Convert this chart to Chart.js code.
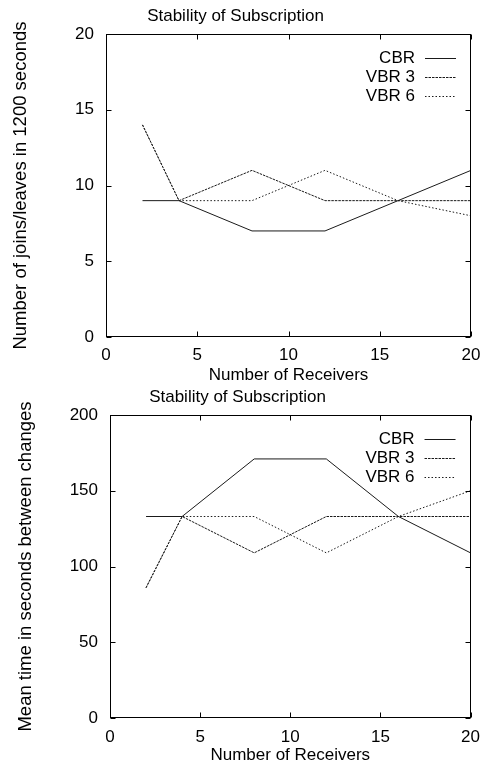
<!DOCTYPE html>
<html>
<head>
<meta charset="utf-8">
<script src="https://cdn.jsdelivr.net/npm/chart.js@4/dist/chart.umd.min.js"></script>
<style>
  html, body { margin: 0; padding: 0; background: #fff; width: 489px; height: 764px; overflow: hidden; }
  canvas { position: absolute; left: 0; }
  #c1 { top: 0; }
  #c2 { top: 380px; }
</style>
</head>
<body>
<canvas id="c1" width="489" height="384"></canvas>
<canvas id="c2" width="489" height="384"></canvas>
<script>
// ---- Data ----
const receivers = [2, 4, 8, 12, 16, 20];
const seriesNames = ['CBR', 'VBR 3', 'VBR 6'];

const joinsCBR  = [9, 9, 7, 7, 9, 11];
const joinsVBR3 = [14, 9, 11, 9, 9, 9];
const joinsVBR6 = [14, 9, 9, 11, 9, 8];

const meanCBR  = [133, 133, 171, 171, 133, 109];
const meanVBR3 = [86, 133, 109, 133, 133, 133];
const meanVBR6 = [86, 133, 133, 109, 133, 150];

const xTicks = [0, 5, 10, 15, 20];
const yTicksTop = [0, 5, 10, 15, 20];
const yTicksBottom = [0, 50, 100, 150, 200];

const chartTitle = 'Stability of Subscription';
const xTitle = 'Number of Receivers';
const yTitleTop = 'Number of joins/leaves in 1200 seconds';
const yTitleBottom = 'Mean time in seconds between changes';

// ---- Styling ----
const FONT = "'Liberation Sans', Arial, Helvetica, sans-serif";
const dashes = [[], [2.5, 1], [1.5, 2]];
const LINE_COLOR = '#1a1a1a';

function toPoints(xs, ys) { return xs.map((x, i) => ({ x: x, y: ys[i] })); }

function makeDatasets(arrays) {
  return arrays.map((arr, i) => ({
    label: seriesNames[i],
    data: toPoints(receivers, arr),
    borderColor: LINE_COLOR,
    borderWidth: 1,
    borderDash: dashes[i],
    pointRadius: 0,
    tension: 0,
    fill: false
  }));
}

const framePlugin = {
  id: 'frame',
  afterDatasetsDraw(chart) {
    const ctx = chart.ctx;
    const a = chart.chartArea;
    const xs = chart.scales.x, ys = chart.scales.y;
    const L = Math.round(a.left) + 0.5, R = Math.round(a.right) - 0.5;
    const T = Math.round(a.top) + 0.5, B = Math.round(a.bottom) - 0.5;
    ctx.save();
    ctx.strokeStyle = '#000';
    ctx.lineWidth = 1;
    ctx.setLineDash([]);
    ctx.strokeRect(L, T, R - L, B - T);
    const tl = 5;
    ctx.beginPath();
    xs.ticks.forEach(t => {
      const px = Math.round(xs.getPixelForValue(t.value)) + 0.5;
      ctx.moveTo(px, B); ctx.lineTo(px, B - tl);
      ctx.moveTo(px, T); ctx.lineTo(px, T + tl);
    });
    ys.ticks.forEach(t => {
      const py = Math.round(ys.getPixelForValue(t.value)) + 0.5;
      ctx.moveTo(L, py); ctx.lineTo(L + tl, py);
      ctx.moveTo(R, py); ctx.lineTo(R - tl, py);
    });
    ctx.stroke();

    // legend: text right-aligned, then line sample
    ctx.font = '17px ' + FONT;
    ctx.fillStyle = '#000';
    ctx.textAlign = 'right';
    ctx.textBaseline = 'middle';
    chart.data.datasets.forEach((ds, i) => {
      const y = a.top + 23.5 + i * 19;
      ctx.fillText(ds.label, a.right - 56, y + 1);
      ctx.beginPath();
      ctx.setLineDash(ds.borderDash || []);
      ctx.strokeStyle = ds.borderColor;
      ctx.lineWidth = 1;
      const ly = Math.round(y) + 0.5;
      ctx.moveTo(a.right - 46, ly);
      ctx.lineTo(a.right - 15, ly);
      ctx.stroke();
    });
    ctx.restore();
  }
};

function makeChart(id, cfg) {
  return new Chart(document.getElementById(id), {
    type: 'line',
    data: { datasets: makeDatasets(cfg.series) },
    plugins: [framePlugin],
    options: {
      responsive: false,
      animation: false,
      devicePixelRatio: 1,
      layout: { padding: { left: 0, right: cfg.padRight, top: 0, bottom: 0 } },
      plugins: {
        legend: { display: false },
        tooltip: { enabled: false },
        title: {
          display: true,
          text: chartTitle,
          color: '#000',
          font: { family: FONT, size: 17, weight: 'normal', lineHeight: 1.2 },
          padding: { top: cfg.titlePadTop, bottom: cfg.titlePadBottom }
        }
      },
      scales: {
        x: {
          type: 'linear',
          min: 0, max: 20,
          afterBuildTicks: s => { s.ticks = xTicks.map(v => ({ value: v })); },
          afterFit: s => { s.height = cfg.xHeight; },
          grid: { display: false, drawTicks: false },
          border: { display: false },
          ticks: {
            color: '#000', padding: cfg.xTickPad, maxRotation: 0,
            font: { family: FONT, size: 17, lineHeight: 1.2 }
          },
          title: {
            display: true, text: xTitle, color: '#000',
            font: { family: FONT, size: 17, lineHeight: 1 },
            padding: { top: 0, bottom: cfg.xTitlePad }
          }
        },
        y: {
          min: cfg.yTicks[0], max: cfg.yTicks[cfg.yTicks.length - 1],
          afterBuildTicks: s => { s.ticks = cfg.yTicks.map(v => ({ value: v })); },
          afterFit: s => { s.width = cfg.yWidth; },
          grid: { display: false, drawTicks: false },
          border: { display: false },
          ticks: {
            color: '#000', padding: 12,
            font: { family: FONT, size: 17, lineHeight: 1.2 }
          },
          title: {
            display: true, text: cfg.yTitle, color: '#000',
            font: { family: FONT, size: 18.5, lineHeight: 1 },
            padding: { top: cfg.yTitlePad, bottom: 0 }
          }
        }
      }
    }
  });
}

makeChart('c1', {
  series: [joinsCBR, joinsVBR3, joinsVBR6],
  yTicks: yTicksTop,
  yTitle: yTitleTop,
  padRight: 18,
  titlePadTop: 5.8, titlePadBottom: 7.8,
  xHeight: 47, xTickPad: 8, xTitlePad: 0.5,
  yWidth: 106, yTitlePad: 11.75
});

makeChart('c2', {
  series: [meanCBR, meanVBR3, meanVBR6],
  yTicks: yTicksBottom,
  yTitle: yTitleBottom,
  padRight: 14,
  titlePadTop: 6.8, titlePadBottom: 7.8,
  xHeight: 46, xTickPad: 9, xTitlePad: 0,
  yWidth: 110, yTitlePad: 16.5
});
</script>
</body>
</html>
